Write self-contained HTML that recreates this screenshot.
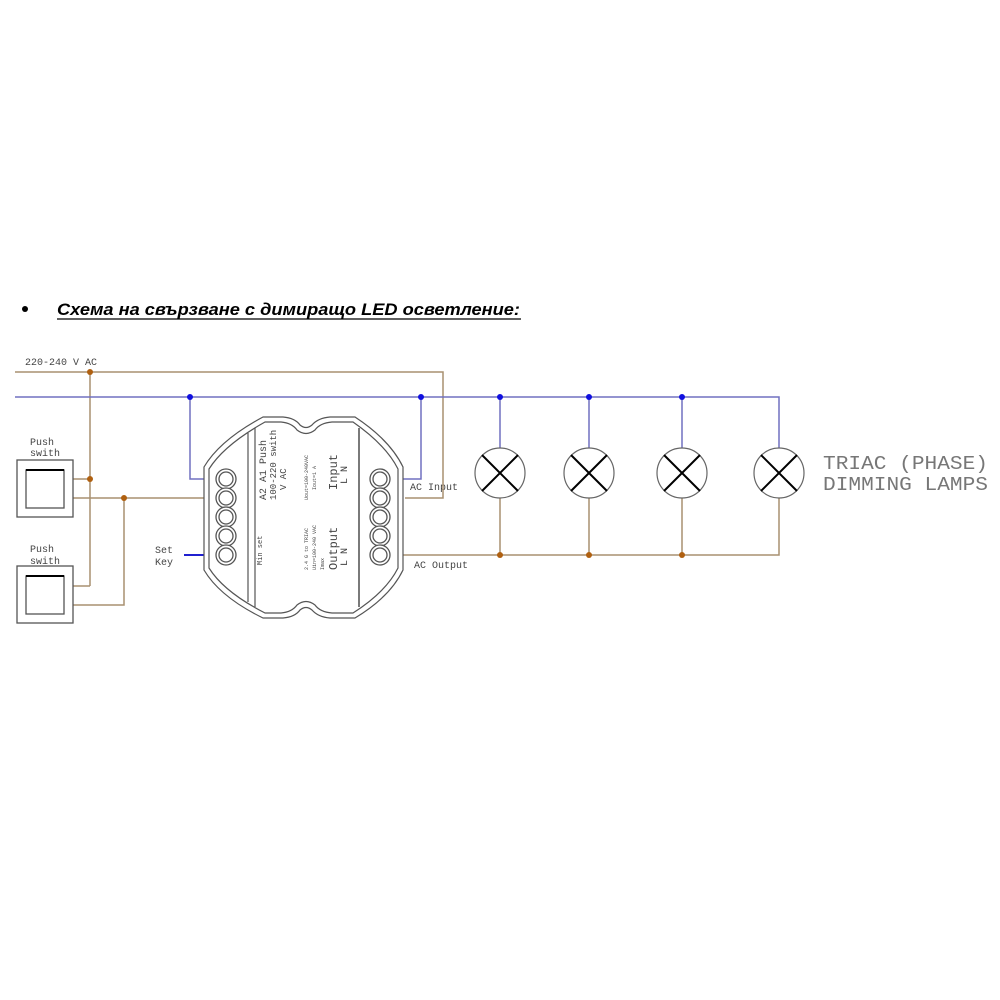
<!DOCTYPE html>
<html><head><meta charset="utf-8"><style>
html,body{margin:0;padding:0;background:#fff;width:1000px;height:1000px;overflow:hidden}
svg{display:block}
</style></head><body>
<svg width="1000" height="1000" viewBox="0 0 1000 1000" xmlns="http://www.w3.org/2000/svg">
<circle cx="25" cy="309" r="3" fill="#000"/>
<text x="57" y="315" font-family="Liberation Sans, sans-serif" font-size="17" font-weight="bold" font-style="italic" fill="#000" textLength="463" lengthAdjust="spacingAndGlyphs">Схема на свързване с димиращо LED осветление:</text>
<line x1="57" y1="319" x2="521" y2="319" stroke="#000" stroke-width="1.3"/>

<g font-family="Liberation Mono, monospace" fill="#444">
<text x="25" y="365" font-size="10">220-240 V AC</text>
<text x="30" y="445" font-size="10">Push</text>
<text x="30" y="456" font-size="10">swith</text>
<text x="30" y="552" font-size="10">Push</text>
<text x="30" y="564" font-size="10">swith</text>
<text x="155" y="553" font-size="10">Set</text>
<text x="155" y="565" font-size="10">Key</text>
<text x="410" y="490" font-size="10">AC Input</text>
<text x="414" y="568" font-size="10">AC Output</text>
<text x="823" y="469" font-size="19" fill="#777" textLength="165" lengthAdjust="spacingAndGlyphs">TRIAC (PHASE)</text>
<text x="823" y="490" font-size="19" fill="#777" textLength="165" lengthAdjust="spacingAndGlyphs">DIMMING LAMPS</text>
</g>

<g stroke="#a89070" stroke-width="1.5" fill="none">
<polyline points="15,372 443,372 443,498 405,498"/>
<line x1="90" y1="372" x2="90" y2="586"/>
<line x1="73" y1="479" x2="90" y2="479"/>
<line x1="73" y1="586" x2="90" y2="586"/>
<line x1="73" y1="498" x2="205" y2="498"/>
<polyline points="124,498 124,605 73,605"/>
<polyline points="403,555 779,555 779,498"/>
<line x1="500" y1="498" x2="500" y2="555"/>
<line x1="589" y1="498" x2="589" y2="555"/>
<line x1="682" y1="498" x2="682" y2="555"/>
</g>
<g stroke="#7070c0" stroke-width="1.5" fill="none">
<polyline points="15,397 779,397 779,448"/>
<polyline points="190,397 190,479 205,479"/>
<polyline points="421,397 421,479 403,479"/>
<line x1="500" y1="397" x2="500" y2="448"/>
<line x1="589" y1="397" x2="589" y2="448"/>
<line x1="682" y1="397" x2="682" y2="448"/>
</g>
<line x1="184" y1="555" x2="205" y2="555" stroke="#2020d0" stroke-width="2"/>
<g fill="#b06010">
<circle cx="90" cy="372" r="3"/><circle cx="90" cy="479" r="3"/><circle cx="124" cy="498" r="3"/>
<circle cx="500" cy="555" r="3"/><circle cx="589" cy="555" r="3"/><circle cx="682" cy="555" r="3"/>
</g>
<g fill="#1010e0">
<circle cx="190" cy="397" r="3"/><circle cx="421" cy="397" r="3"/>
<circle cx="500" cy="397" r="3"/><circle cx="589" cy="397" r="3"/><circle cx="682" cy="397" r="3"/>
</g>

<g fill="#fff" stroke="#555" stroke-width="1.3">
<rect x="17" y="460" width="56" height="57"/>
<rect x="26" y="470" width="38" height="38"/>
<rect x="17" y="566" width="56" height="57"/>
<rect x="26" y="576" width="38" height="38"/>
</g>
<line x1="26" y1="470" x2="64" y2="470" stroke="#000" stroke-width="2"/>
<line x1="26" y1="576" x2="64" y2="576" stroke="#000" stroke-width="2"/>

<g stroke="#666" stroke-width="1.2" fill="#fff">
<circle cx="500" cy="473" r="25"/><circle cx="589" cy="473" r="25"/><circle cx="682" cy="473" r="25"/><circle cx="779" cy="473" r="25"/>
</g>
<g stroke="#000" stroke-width="2">
<path d="M482 455 L518 491 M518 455 L482 491"/>
<path d="M571 455 L607 491 M607 455 L571 491"/>
<path d="M664 455 L700 491 M700 455 L664 491"/>
<path d="M761 455 L797 491 M797 455 L761 491"/>
</g>

<g fill="none" stroke="#555" stroke-width="1.2">
<path d="M204 467 Q220 440 263 417 L283 417 Q295 418 300 425 Q306 430 312 425 Q318 418 330 417 L355 417 Q390 440 403 467 L403 570 Q390 597 355 618 L330 618 Q318 617 312 610 Q306 605 300 610 Q295 617 283 618 L263 618 Q220 597 204 570 Z" fill="#fff"/>
<path d="M209 469 Q224 445 265 422 L281 422 Q292 423 297 430 Q306 437 315 430 Q320 423 332 422 L353 422 Q386 445 398 469 L398 568 Q386 592 353 613 L332 613 Q320 612 315 605 Q306 598 297 605 Q292 612 281 613 L265 613 Q224 592 209 568 Z"/>
<line x1="248" y1="433" x2="248" y2="602"/>
<line x1="255" y1="428" x2="255" y2="607"/>
<line x1="359" y1="428" x2="359" y2="607" stroke="#222"/>
</g>
<g fill="#fff" stroke="#555" stroke-width="1.3">
<circle cx="226" cy="479" r="10"/><circle cx="226" cy="498" r="10"/><circle cx="226" cy="517" r="10"/><circle cx="226" cy="536" r="10"/><circle cx="226" cy="555" r="10"/>
<circle cx="226" cy="479" r="7"/><circle cx="226" cy="498" r="7"/><circle cx="226" cy="517" r="7"/><circle cx="226" cy="536" r="7"/><circle cx="226" cy="555" r="7"/>
<circle cx="380" cy="479" r="10"/><circle cx="380" cy="498" r="10"/><circle cx="380" cy="517" r="10"/><circle cx="380" cy="536" r="10"/><circle cx="380" cy="555" r="10"/>
<circle cx="380" cy="479" r="7"/><circle cx="380" cy="498" r="7"/><circle cx="380" cy="517" r="7"/><circle cx="380" cy="536" r="7"/><circle cx="380" cy="555" r="7"/>
</g>
<g font-family="Liberation Mono, monospace" fill="#444">
<text transform="translate(266,500) rotate(-90)" font-size="10">A2 A1 Push</text>
<text transform="translate(276,500) rotate(-90)" font-size="9">100-220 swith</text>
<text transform="translate(286,490) rotate(-90)" font-size="9">V AC</text>
<text transform="translate(262,565) rotate(-90)" font-size="7">Min set</text>
<text transform="translate(308,500) rotate(-90)" font-size="5">Uout=100-240VAC</text>
<text transform="translate(316,490) rotate(-90)" font-size="5">Iout=1 A</text>
<text transform="translate(308,570) rotate(-90)" font-size="5">2.4 G to TRIAC</text>
<text transform="translate(316,570) rotate(-90)" font-size="5">Uin=100-240 VAC</text>
<text transform="translate(324,570) rotate(-90)" font-size="5">Imax</text>
<text transform="translate(337,490) rotate(-90)" font-size="12">Input</text>
<text transform="translate(347,484) rotate(-90)" font-size="10">L N</text>
<text transform="translate(337,570) rotate(-90)" font-size="12">Output</text>
<text transform="translate(347,566) rotate(-90)" font-size="10">L N</text>
</g>
</svg>
</body></html>
